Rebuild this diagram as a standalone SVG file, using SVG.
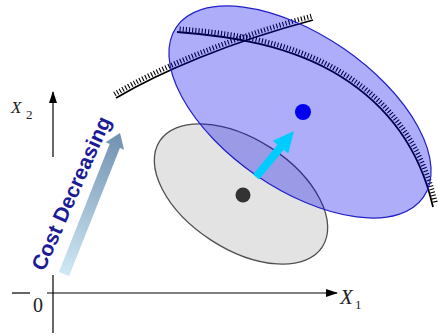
<svg xmlns="http://www.w3.org/2000/svg" width="438" height="335" viewBox="0 0 438 335">
<defs>
<linearGradient id="cg" gradientUnits="userSpaceOnUse" x1="64" y1="274" x2="120" y2="133">
<stop offset="0" stop-color="#cfe8f5"/>
<stop offset="1" stop-color="#7090b0"/>
</linearGradient>
<marker id="ah" viewBox="0 0 12 8" refX="11" refY="4" markerWidth="12" markerHeight="8" markerUnits="userSpaceOnUse" orient="auto">
<path d="M0,0 L12,4 L0,8 Z" fill="#000"/>
</marker>
<style>
.ax{stroke:#000;stroke-width:1.2;fill:none}
.cl{stroke:#000;stroke-width:1.8;fill:none}
.ht{stroke:#000;stroke-width:5;fill:none;stroke-dasharray:1.1 2.1}
.lab{font-family:"Liberation Serif",serif;font-style:italic;fill:#222}
.num{font-family:"Liberation Serif",serif;fill:#222}
</style>
</defs>
<rect width="438" height="335" fill="#fff"/>
<g id="axes">
<line class="ax" x1="12" y1="293" x2="30" y2="293"/>
<line class="ax" x1="47" y1="293" x2="337" y2="293" marker-end="url(#ah)"/>
<line class="ax" x1="53" y1="275" x2="53" y2="333"/>
<line class="ax" x1="53" y1="157" x2="53" y2="92" marker-end="url(#ah)"/>
<text class="lab" x="340" y="304" style="font-size:21px">X</text>
<text class="num" x="355" y="309" style="font-size:13px">1</text>
<text class="lab" x="11" y="113" style="font-size:17px">X</text>
<text class="num" x="26" y="119" style="font-size:13px">2</text>
<text class="num" x="33" y="312" style="font-size:20px">0</text>
</g>
<g id="cost">
<polygon points="58.9,272 69.1,276 119.9,148 124.1,149.7 120,133 105.5,142.3 109.7,144" fill="url(#cg)"/>
<text x="44" y="272" transform="rotate(-66 44 272)" style="font-family:'Liberation Sans',Arial,sans-serif;font-weight:bold;font-size:21px" fill="#1c1c96">Cost Decreasing</text>
</g>
<g id="gray-ellipse">
<ellipse cx="241" cy="194" rx="97" ry="55" transform="rotate(33 241 194)" fill="#e3e3e3" stroke="#505050" stroke-width="1.3"/>
<circle cx="243" cy="195" r="7.5" fill="#333"/>
</g>
<g id="constraints">
<path class="cl" d="M116,98 C160,72 230,42 313,20"/>
<path class="ht" d="M116,98 C160,72 230,42 313,20" transform="translate(-1.5,-3.8)"/>
<path class="cl" d="M177,32 C230,36 290,45 340,76 S420,150 433,207"/>
<path class="ht" d="M177,32 C230,36 290,45 340,76 S420,150 433,207" transform="translate(2.6,-3)"/>
</g>
<g id="blue-ellipse">
<ellipse cx="300" cy="112" rx="150" ry="77" transform="rotate(34.5 300 112)" fill="#0000f0" fill-opacity="0.32" stroke="#2020c8" stroke-width="1.2"/>
<circle cx="303" cy="112" r="8" fill="#0000ee"/>
</g>
<g id="move-arrow">
<polygon points="252.9,174.5 259.1,179.5 283.7,149.7 288.3,153.6 294,131 272.9,140.8 277.5,144.7" fill="#00ccff"/>
</g>
</svg>
